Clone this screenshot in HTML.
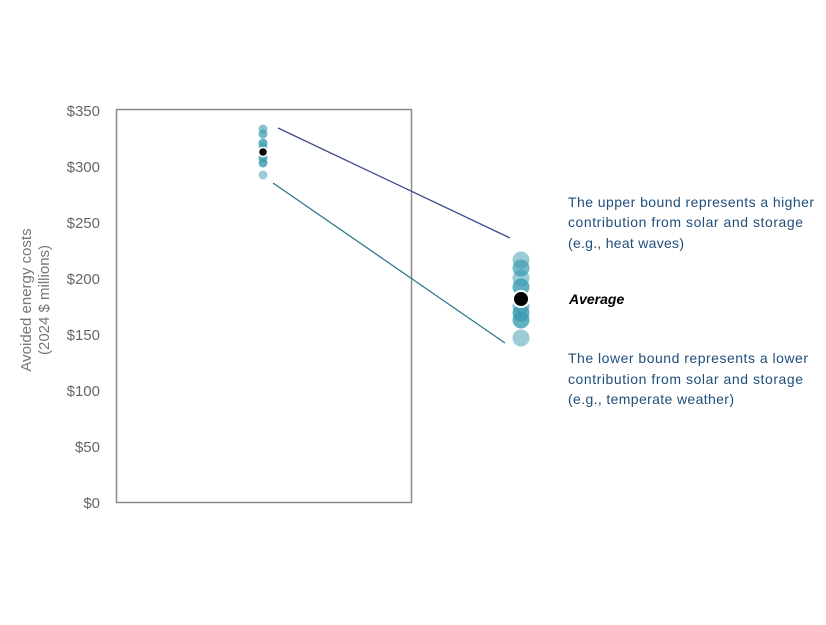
<!DOCTYPE html>
<html><head><style>
body{margin:0;background:#fff;width:826px;height:620px;overflow:hidden}
</style></head><body>
<svg width="826" height="620" xmlns="http://www.w3.org/2000/svg" font-family="Liberation Sans, sans-serif">
<rect x="116.5" y="109.5" width="295" height="393" fill="none" stroke="#8a8a8a" stroke-width="1.5"/>
<g font-size="15" fill="#666" text-anchor="end">
<text x="100" y="116">$350</text>
<text x="100" y="172">$300</text>
<text x="100" y="228">$250</text>
<text x="100" y="284">$200</text>
<text x="100" y="340">$150</text>
<text x="100" y="396">$100</text>
<text x="100" y="452">$50</text>
<text x="100" y="508">$0</text>
</g>
<text transform="translate(31,300) rotate(-90)" font-size="15" fill="#777" text-anchor="middle">Avoided energy costs</text>
<text transform="translate(49,300) rotate(-90)" font-size="15" fill="#777" text-anchor="middle">(2024 $ millions)</text>
<line x1="278" y1="128" x2="510" y2="238" stroke="#3b4b8c" stroke-width="1.3"/>
<line x1="273" y1="183" x2="505" y2="343" stroke="#2a7a8c" stroke-width="1.3"/>
<g fill="#3a9bb0">
<circle cx="263" cy="129" r="4.5" opacity="0.6"/>
<circle cx="263" cy="134" r="4.5" opacity="0.7"/>
<circle cx="263" cy="143" r="4.5" opacity="0.8"/>
<circle cx="263" cy="147" r="4.5" opacity="0.6"/>
<circle cx="263" cy="158" r="4.5" opacity="0.8"/>
<circle cx="263" cy="163" r="4.5" opacity="0.8"/>
<circle cx="263" cy="175" r="4.5" opacity="0.5"/>
<circle cx="521" cy="260" r="8.5" opacity="0.5"/>
<circle cx="521" cy="268" r="8.5" opacity="0.7"/>
<circle cx="521" cy="278" r="8.5" opacity="0.5"/>
<circle cx="521" cy="287" r="8.5" opacity="0.8"/>
<circle cx="521" cy="306" r="8.5" opacity="0.6"/>
<circle cx="521" cy="313" r="8.5" opacity="0.8"/>
<circle cx="521" cy="320" r="8.5" opacity="0.8"/>
<circle cx="521" cy="338" r="8.5" opacity="0.5"/>
</g>
<circle cx="263" cy="152" r="4.5" fill="#000" stroke="#fff" stroke-width="1.5"/>
<circle cx="521" cy="299" r="8" fill="#000" stroke="#fff" stroke-width="2"/>
<text x="569" y="304" font-size="14" font-weight="bold" font-style="italic" fill="#000">Average</text>
<g font-size="14" fill="#1f4e79" textLength="246">
<text x="568" y="207" textLength="246">The upper bound represents a higher</text>
<text x="568" y="227" textLength="235">contribution from solar and storage</text>
<text x="568" y="248" textLength="116">(e.g., heat waves)</text>
<text x="568" y="363" textLength="240">The lower bound represents a lower</text>
<text x="568" y="384" textLength="235">contribution from solar and storage</text>
<text x="568" y="404" textLength="166">(e.g., temperate weather)</text>
</g>
</svg>
</body></html>
